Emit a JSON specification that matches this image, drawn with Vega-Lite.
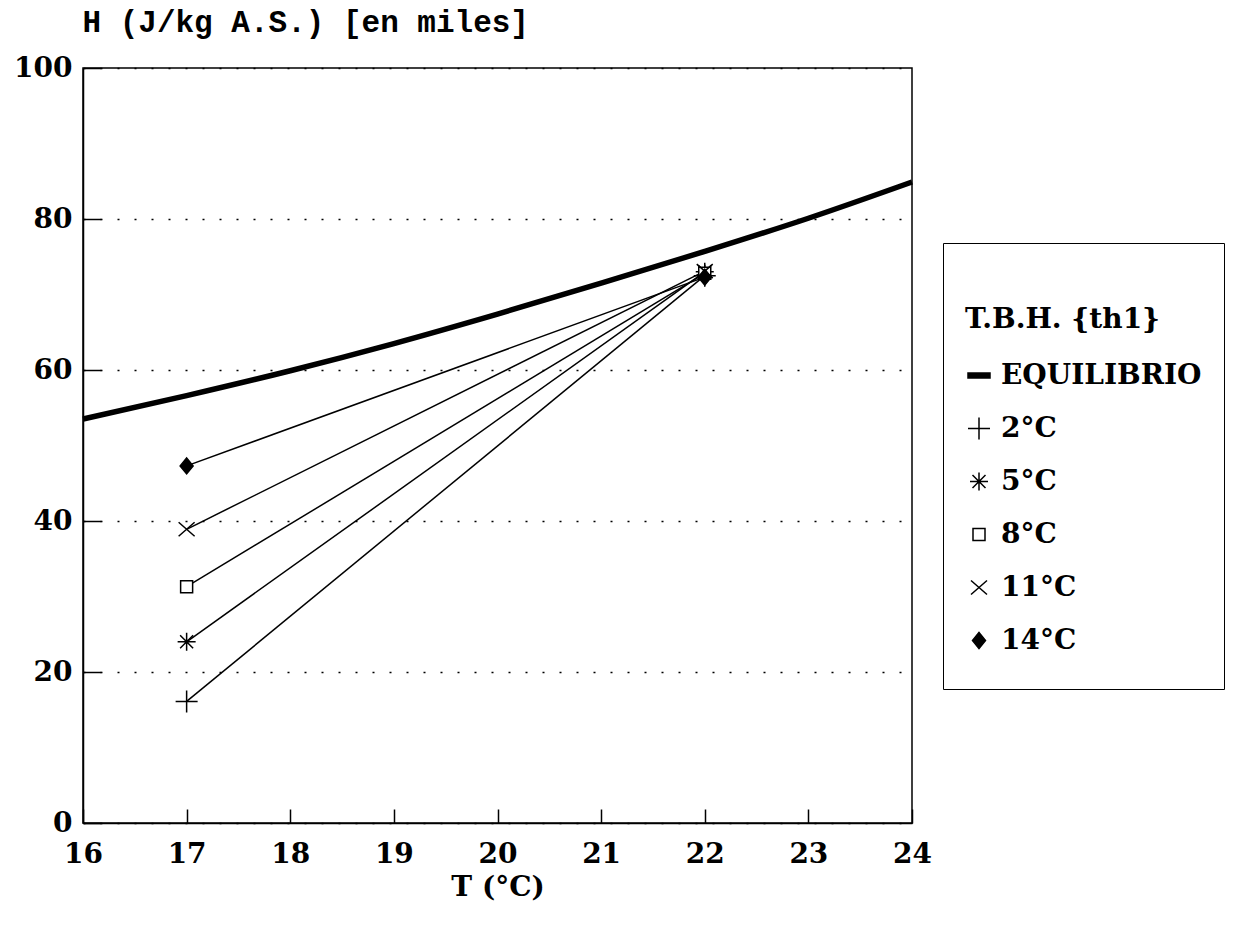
{
  "$schema": "https://vega.github.io/schema/vega-lite/v6.json",
  "width": 829,
  "height": 755,
  "autosize": {"type": "none"},
  "padding": {"left": 83, "top": 68, "right": 323, "bottom": 102},
  "background": "white",
  "config": {
    "font": "DejaVu Serif",
    "view": {"stroke": "black", "strokeWidth": 1.5},
    "axis": {
      "labelFont": "DejaVu Serif",
      "labelFontSize": 28,
      "labelFontWeight": "bold",
      "labelColor": "black",
      "titleFont": "DejaVu Serif",
      "titleFontSize": 28,
      "titleFontWeight": "bold",
      "titleColor": "black",
      "domainColor": "black",
      "domainWidth": 1.5,
      "tickColor": "black",
      "tickWidth": 1.5,
      "labelFlush": false,
      "labelOverlap": false
    },
    "legend": {
      "orient": "none",
      "legendX": 860,
      "legendY": 175,
      "titleFont": "DejaVu Serif",
      "titleFontSize": 28,
      "titleFontWeight": "bold",
      "titleColor": "black",
      "titleLineHeight": 41,
      "titlePadding": 15,
      "titleLimit": 600,
      "labelFont": "DejaVu Serif",
      "labelFontSize": 28,
      "labelFontWeight": "bold",
      "labelColor": "black",
      "labelLimit": 600,
      "labelOffset": 8,
      "symbolSize": 400,
      "symbolStrokeWidth": 1.5,
      "strokeColor": "black",
      "fillColor": "white",
      "padding": 22,
      "rowPadding": 0,
      "clipHeight": 53
    }
  },
  "datasets": {
    "equilibrio": [
      {"T": 16, "H": 53.5},
      {"T": 17, "H": 56.6},
      {"T": 18, "H": 59.9},
      {"T": 19, "H": 63.5},
      {"T": 20, "H": 67.4},
      {"T": 21, "H": 71.5},
      {"T": 22, "H": 75.7},
      {"T": 23, "H": 80.1},
      {"T": 24, "H": 84.9}
    ],
    "series": [
      {"serie": "2°C", "T": 17, "H": 16.1},
      {"serie": "2°C", "T": 22, "H": 72.5},
      {"serie": "5°C", "T": 17, "H": 24.0},
      {"serie": "5°C", "T": 22, "H": 73.0},
      {"serie": "8°C", "T": 17, "H": 31.3},
      {"serie": "8°C", "T": 22, "H": 72.8},
      {"serie": "11°C", "T": 17, "H": 38.9},
      {"serie": "11°C", "T": 22, "H": 73.1},
      {"serie": "14°C", "T": 17, "H": 47.3},
      {"serie": "14°C", "T": 22, "H": 72.3}
    ]
  },
  "encoding": {
    "x": {
      "field": "T",
      "type": "quantitative",
      "scale": {"domain": [16, 24], "nice": false, "zero": false},
      "axis": {
        "values": [16, 17, 18, 19, 20, 21, 22, 23, 24],
        "grid": false,
        "tickSize": -14,
        "labelPadding": 31,
        "title": "T (°C)",
        "titleBaseline": "middle",
        "titleY": 64
      }
    },
    "y": {
      "field": "H",
      "type": "quantitative",
      "scale": {"domain": [0, 100], "nice": false},
      "axis": {
        "values": [0, 20, 40, 60, 80, 100],
        "grid": true,
        "gridColor": "black",
        "gridWidth": 1.5,
        "gridDash": [2, 15],
        "gridOpacity": 1,
        "tickSize": -18,
        "labelPadding": 29,
        "title": "H (J/kg A.S.) [en miles]",
        "titleFont": "Liberation Mono",
        "titleFontSize": 31,
        "titleFontWeight": "bold",
        "titleAngle": 0,
        "titleAlign": "left",
        "titleBaseline": "middle",
        "titleX": -1,
        "titleY": -46
      }
    }
  },
  "layer": [
    {
      "data": {"name": "equilibrio"},
      "mark": {"type": "line", "color": "black", "strokeWidth": 5.5, "interpolate": "monotone"}
    },
    {
      "data": {"name": "series"},
      "mark": {"type": "line", "color": "black", "strokeWidth": 1.5},
      "encoding": {"detail": {"field": "serie", "type": "nominal"}}
    },
    {
      "data": {"name": "series"},
      "mark": {"type": "point", "strokeWidth": 1.5, "size": 400, "opacity": 1},
      "encoding": {
        "shape": {
          "field": "serie",
          "type": "nominal",
          "title": ["", "T.B.H. {th1}"],
          "scale": {
            "domain": ["EQUILIBRIO", "2°C", "5°C", "8°C", "11°C", "14°C"],
            "range": [
              "M-1.1,-0.25H1.1V0.25H-1.1Z",
              "M-1.1,0H1.1M0,-1.1V1.1",
              "M-0.9,0H0.9M0,-0.9V0.9M-0.65,-0.65L0.65,0.65M-0.65,0.65L0.65,-0.65",
              "M-0.6,-0.6H0.6V0.6H-0.6Z",
              "M-0.8,-0.7L0.8,0.7M-0.8,0.7L0.8,-0.7",
              "M0,-0.8L0.65,0L0,0.8L-0.65,0Z"
            ]
          }
        },
        "fill": {
          "field": "serie",
          "type": "nominal",
          "title": ["", "T.B.H. {th1}"],
          "scale": {
            "domain": ["EQUILIBRIO", "2°C", "5°C", "8°C", "11°C", "14°C"],
            "range": ["black", "transparent", "transparent", "white", "transparent", "black"]
          }
        },
        "stroke": {
          "field": "serie",
          "type": "nominal",
          "title": ["", "T.B.H. {th1}"],
          "scale": {
            "domain": ["EQUILIBRIO", "2°C", "5°C", "8°C", "11°C", "14°C"],
            "range": ["black", "black", "black", "black", "black", "black"]
          }
        }
      }
    }
  ]
}
